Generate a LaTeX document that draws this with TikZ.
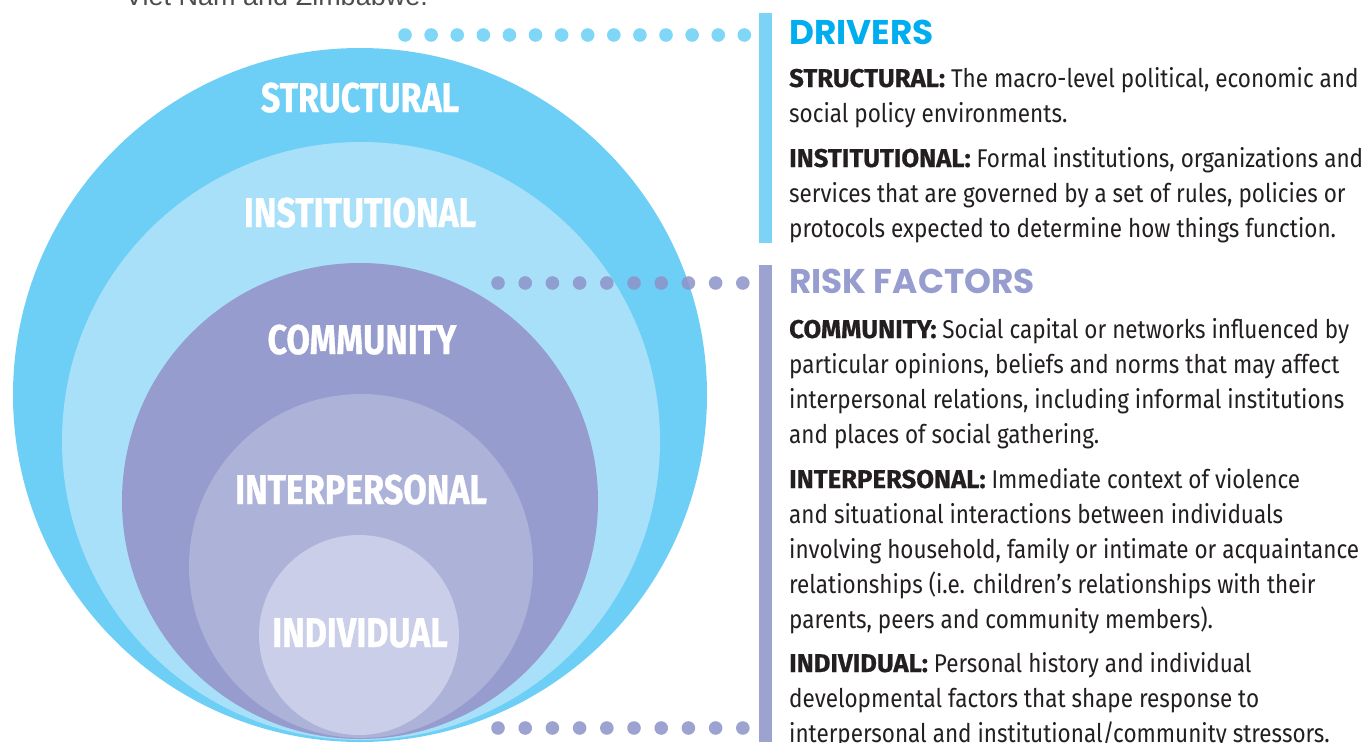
\documentclass[tikz,border=0pt]{standalone}
\usepackage{fontspec}
\setmainfont{Fira Sans}
\newfontfamily\bodyreg{Fira Sans}[FakeStretch=0.875]
\newfontfamily\bodybld{Fira Sans}[FakeStretch=1.0, FakeBold=0.6]
\newfontfamily\lblfont{Fira Sans}[FakeStretch=0.82, FakeBold=0.8]
\newfontfamily\headfont{Poppins}
\newfontfamily\topfont{Liberation Sans}
\newcommand\bterm[1]{{\bodybld\bfseries #1}}
\definecolor{cStruct}{HTML}{6DCFF6}
\definecolor{cInst}{HTML}{A8E0F9}
\definecolor{cComm}{HTML}{969CCD}
\definecolor{cInter}{HTML}{ADB2D9}
\definecolor{cIndiv}{HTML}{CACEE8}
\definecolor{cDrv}{HTML}{00AEEF}
\definecolor{cRisk}{HTML}{979DCE}
\definecolor{cBarD}{HTML}{7DD3F6}
\definecolor{cBarR}{HTML}{9DA3D1}
\definecolor{cDotD}{HTML}{80D6F7}
\definecolor{cDotR}{HTML}{8C93C9}
\definecolor{cText}{HTML}{231F20}
\definecolor{cTop}{HTML}{4D4D4F}
\begin{document}
\begin{tikzpicture}[x=1pt,y=-1pt,
  lbl/.style={anchor=base, inner sep=0pt, text=white, font=\lblfont\bfseries\fontsize{41.5}{41.5}\selectfont},
  bl/.style={anchor=base west, inner sep=0pt, text=cText, font=\bodyreg\fontsize{25.7}{35}\selectfont},
  hd/.style={anchor=base west, inner sep=0pt, font=\headfont\bfseries\fontsize{34.3}{40}\selectfont}]
\useasboundingbox (0,0) rectangle (1365,742);
\clip (0,0) rectangle (1365,742);
% cut-off text at the top
\node[anchor=base west, inner sep=0pt, text=cTop, font=\topfont\fontsize{27}{30}\selectfont] (toptext) at (125,5) {Viet Nam and Zimbabwe.};
% nested circles
\fill[cStruct] (360,395) circle[radius=347];
\fill[cInst] (361,441) circle[radius=299];
\fill[cComm] (360,501) circle[radius=238];
\fill[cInter] (361,566) circle[radius=172];
\fill[cIndiv] (359,635) circle[radius=100];
% circle labels
\node[lbl] (lStruct) at (360,112) {STRUCTURAL};
\node[lbl] (lInst) at (360,227) {INSTITUTIONAL};
\node[lbl] (lComm) at (362,354) {COMMUNITY};
\node[lbl] (lInter) at (361,504) {INTERPERSONAL};
\node[lbl] (lIndiv) at (360,647) {INDIVIDUAL};
% dotted leaders
\foreach \i in {0,...,13} \fill[cDotD] ({405+26.1*\i},35) circle[radius=6.8];
\foreach \i in {0,...,9} \fill[cDotR, opacity=0.85] ({498+27.2*\i},283) circle[radius=6.8];
\foreach \i in {0,...,9} \fill[cBarR] ({498+27.2*\i},728) circle[radius=6.8];
% bars
\fill[cBarD] (759,13) rectangle (772,243);
\fill[cBarR] (759,265) rectangle (772,742);
% drivers text
\node[hd, text=cDrv] (hDrv) at (789,44) {DRIVERS};
\node[bl] (d1) at (789,87) {\bterm{STRUCTURAL:} The macro-level political, economic and};
\node[bl] (d2) at (789,122) {social policy environments.};
\node[bl] (d3) at (789,167) {\bterm{INSTITUTIONAL:} Formal institutions, organizations and};
\node[bl] (d4) at (789,202) {services that are governed by a set of rules, policies or};
\node[bl] (d5) at (789,237) {protocols expected to determine how things function.};
% risk factors text
\node[hd, text=cRisk] (hRisk) at (789,293) {RISK FACTORS};
\node[bl] (r1) at (789,338) {\bterm{COMMUNITY:} Social capital or networks influenced by};
\node[bl] (r2) at (789,373) {particular opinions, beliefs and norms that may affect};
\node[bl] (r3) at (789,408) {interpersonal relations, including informal institutions};
\node[bl] (r4) at (789,443) {and places of social gathering.};
\node[bl] (r5) at (789,488) {\bterm{INTERPERSONAL:} Immediate context of violence};
\node[bl] (r6) at (789,523) {and situational interactions between individuals};
\node[bl] (r7) at (789,558) {involving household, family or intimate or acquaintance};
\node[bl] (r8) at (789,593) {relationships (i.e. children’s relationships with their};
\node[bl] (r9) at (789,628) {parents, peers and community members).};
\node[bl] (r10) at (789,672) {\bterm{INDIVIDUAL:} Personal history and individual};
\node[bl] (r11) at (789,707) {developmental factors that shape response to};
\node[bl] (r12) at (789,742) {interpersonal and institutional/community stressors.};
\end{tikzpicture}
\end{document}
